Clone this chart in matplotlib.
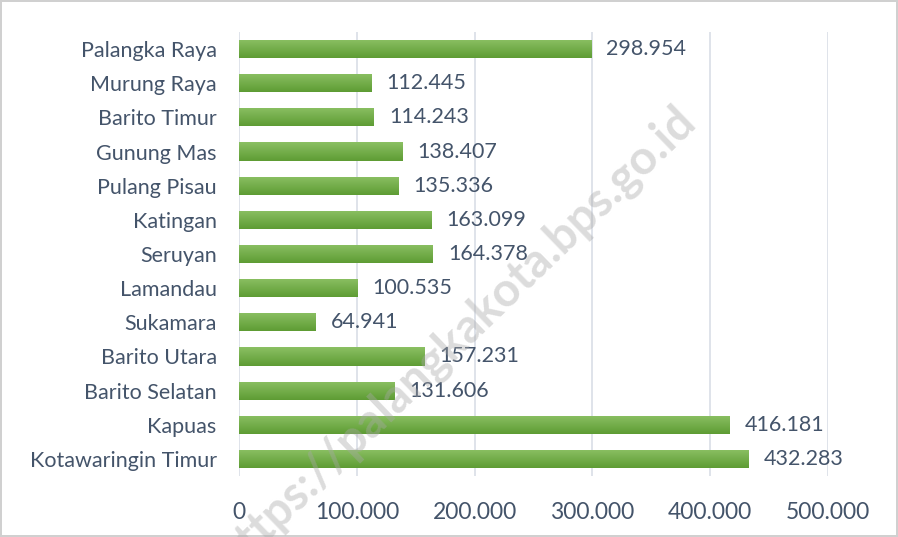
import numpy as np
import matplotlib.pyplot as plt
from matplotlib.ticker import FuncFormatter
from matplotlib.colors import LinearSegmentedColormap

plt.rcParams['font.family'] = ['Lato', 'DejaVu Sans']

# data (top to bottom as in the chart)
regions = ['Palangka Raya', 'Murung Raya', 'Barito Timur', 'Gunung Mas',
           'Pulang Pisau', 'Katingan', 'Seruyan', 'Lamandau', 'Sukamara',
           'Barito Utara', 'Barito Selatan', 'Kapuas', 'Kotawaringin Timur']
values = [298954, 112445, 114243, 138407, 135336, 163099, 164378,
          100535, 64941, 157231, 131606, 416181, 432283]
xticks = [0, 100000, 200000, 300000, 400000, 500000]

txt = '#44546A'


def dotfmt(v, pos=None):
    return f'{int(v):,}'.replace(',', '.')


fig = plt.figure(figsize=(8.98, 5.37), dpi=100, facecolor='white',
                 edgecolor='#D0D0D0', linewidth=1.5)
ax = fig.add_axes([0.2661, 0.1136, 0.6559, 0.8268])

y = np.arange(len(regions))
bars = ax.barh(y, values, height=0.53, color='#70AD47', zorder=2)

# vertical green gradient on each bar
grad = np.linspace(0, 1, 64).reshape(-1, 1)
cmap = LinearSegmentedColormap.from_list('g', ['#8BC063', '#5E9C34'])
for b in bars:
    x0, y0 = b.get_x(), b.get_y()
    w, h = b.get_width(), b.get_height()
    im = ax.imshow(grad, cmap=cmap, aspect='auto', zorder=3,
                   extent=[x0, x0 + w, y0 + h, y0], origin='upper')
    im.set_clip_path(b)

for yi, v in zip(y, values):
    ax.text(v + 13000, yi, dotfmt(v), va='center', ha='left',
            fontsize=15.5, color=txt, zorder=4)

ax.set_xlim(0, 500000)
ax.set_ylim(len(regions) - 0.5, -0.5)
ax.set_xticks(xticks)
ax.xaxis.set_major_formatter(FuncFormatter(dotfmt))
ax.set_yticks(y)
ax.set_yticklabels(regions)
ax.tick_params(axis='both', length=0, labelsize=15.5, colors=txt)
ax.tick_params(axis='x', labelsize=16.5)
ax.tick_params(axis='y', pad=16)
ax.tick_params(axis='x', pad=19)
ax.grid(axis='x', color='#D9DEE6', linewidth=1.2, zorder=0)
for s in ax.spines.values():
    s.set_visible(False)

# watermark
fig.text(0.508, 0.37, 'https://palangkakota.bps.go.id', rotation=44,
         ha='center', va='center', fontsize=34, fontweight='bold',
         color='#A8A8A8', alpha=0.4, zorder=10)

fig.savefig('out.png', dpi=100, facecolor='white', edgecolor='#D0D0D0')
